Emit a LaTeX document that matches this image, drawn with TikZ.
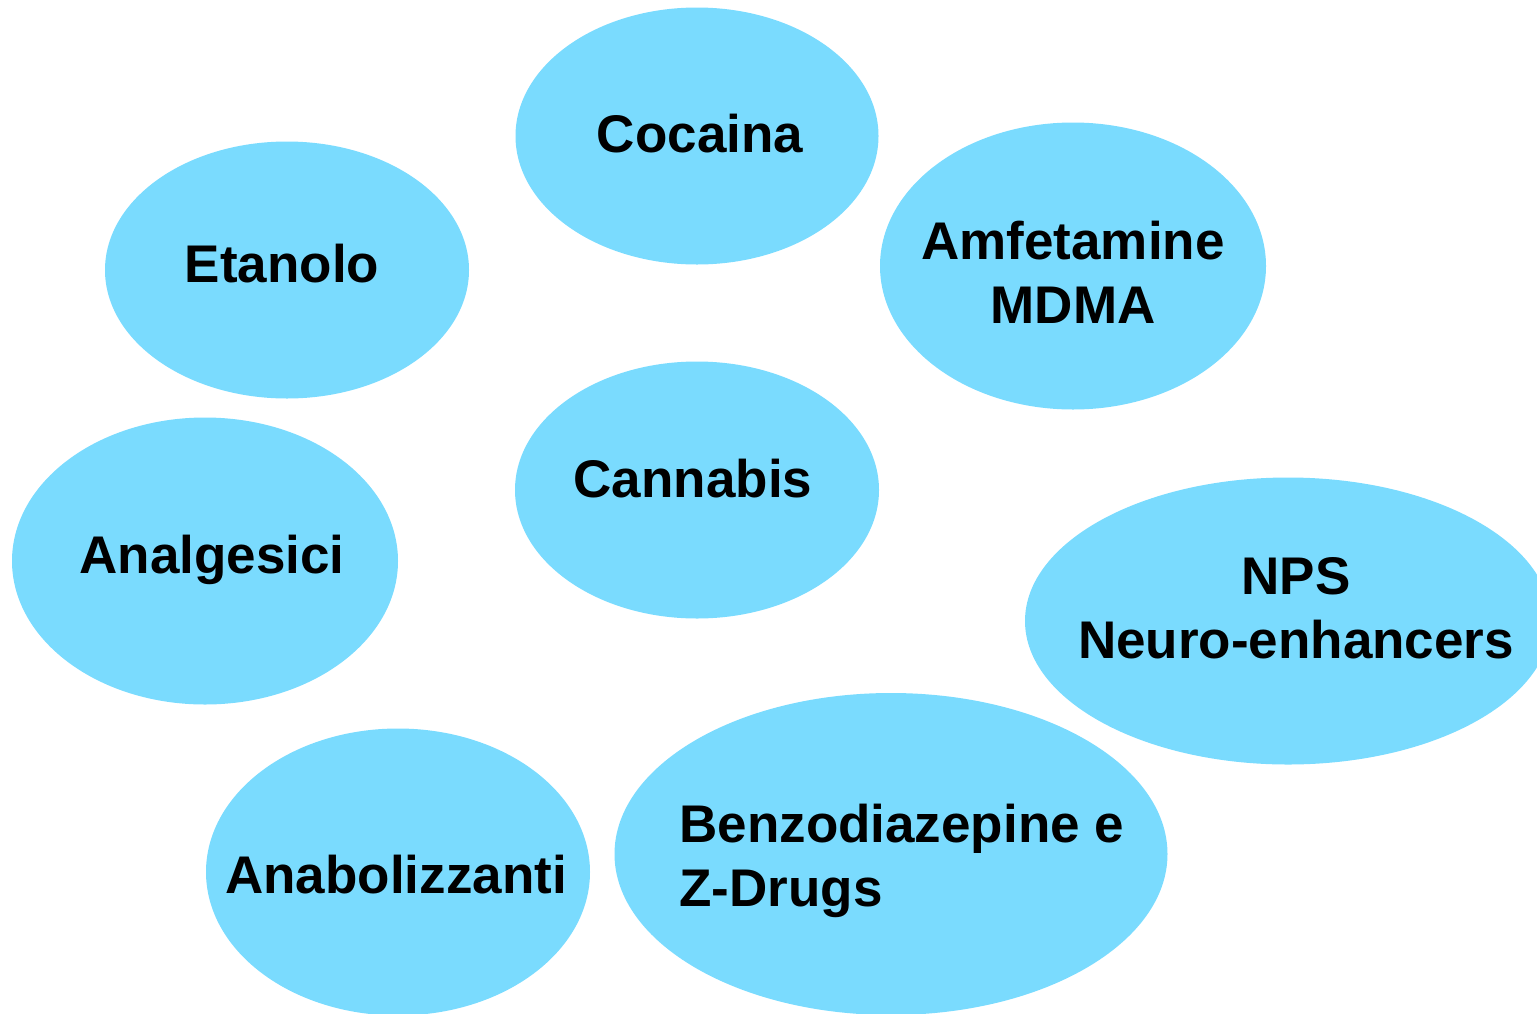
\documentclass[tikz,border=0pt]{standalone}
\usepackage{fontspec}
\setmainfont{Liberation Sans}
\usetikzlibrary{shapes.geometric}
\definecolor{drugcyan}{HTML}{7ADBFE}

\begin{document}
\begin{tikzpicture}[x=0.5pt, y=-0.5pt,
  drug/.style={ellipse, fill=drugcyan, inner sep=0pt},
  drugtext/.style={inner sep=0pt, anchor=base, align=center,
    font=\fontsize{26.5pt}{32pt}\selectfont\bfseries}]
\useasboundingbox (0,0) rectangle (1537,1013);
% ellipses
\node[drug, minimum width=181.5pt, minimum height=128.5pt] (cocaina) at (697,136) {};
\node[drug, minimum width=182pt, minimum height=128.5pt] (etanolo) at (287,270) {};
\node[drug, minimum width=193pt, minimum height=143.5pt] (amfetamine) at (1073,266) {};
\node[drug, minimum width=182pt, minimum height=128.5pt] (cannabis) at (697,490) {};
\node[drug, minimum width=193pt, minimum height=143.5pt] (analgesici) at (205,561) {};
\node[drug, minimum width=263pt, minimum height=143.5pt] (nps) at (1288,621) {};
\node[drug, minimum width=192pt, minimum height=143.5pt] (anabolizzanti) at (398,872) {};
\node[drug, minimum width=276.5pt, minimum height=161pt] (benzo) at (891,854) {};
% labels (base = baseline of the last line)
\node[drugtext] (cocaina-txt) at (700,152) {Cocaina};
\node[drugtext] (etanolo-txt) at (282,282) {Etanolo};
\node[drugtext] (amfetamine-txt) at (1073,323) {Amfetamine\\MDMA};
\node[drugtext] (cannabis-txt) at (693,497) {Cannabis};
\node[drugtext] (analgesici-txt) at (212,573) {Analgesici};
\node[drugtext] (nps-txt) at (1296,658) {NPS\\Neuro-enhancers};
\node[drugtext] (anabolizzanti-txt) at (396,893) {Anabolizzanti};
\node[drugtext, align=left, anchor=base west] (benzo-txt) at (679,906) {Benzodiazepine e\\Z-Drugs};
\end{tikzpicture}
\end{document}
